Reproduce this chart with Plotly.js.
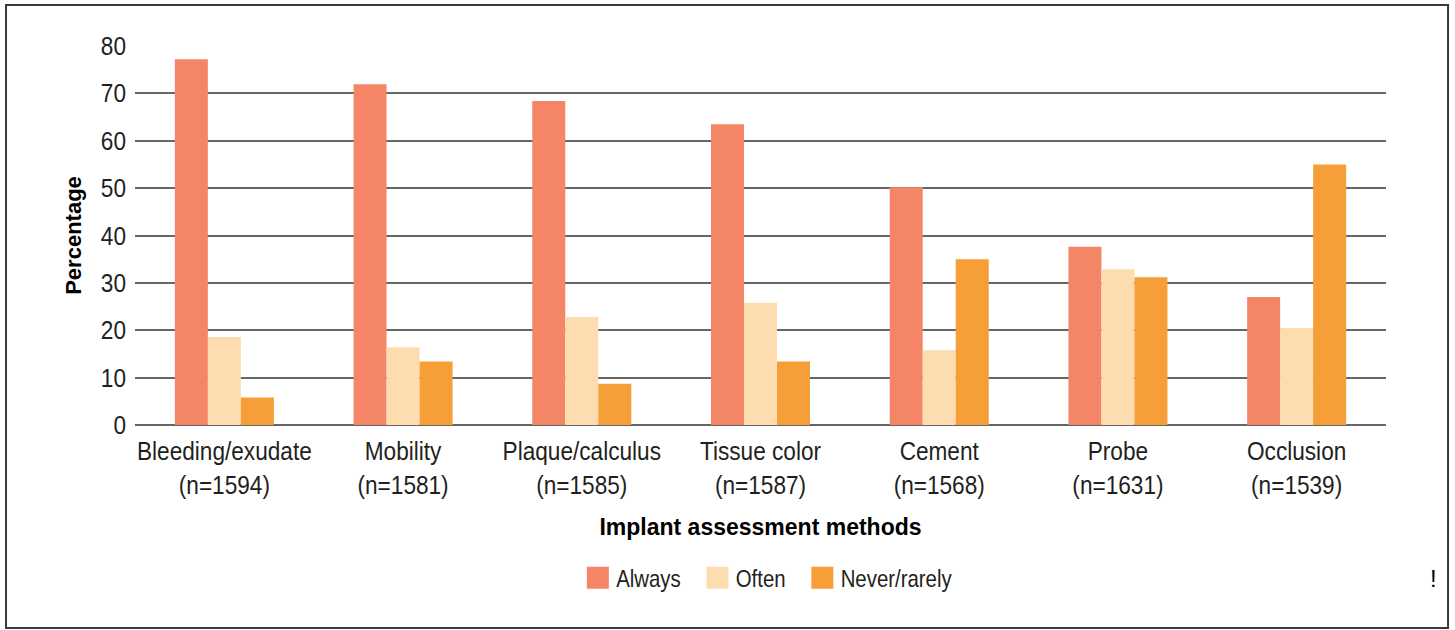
<!DOCTYPE html>
<html>
<head>
<meta charset="utf-8">
<script src="https://cdn.plot.ly/plotly-3.0.1.min.js"></script>
<style>
html,body{margin:0;padding:0;background:#fff;}
#chart{width:1455px;height:630px;}
</style>
</head>
<body>
<div id="chart"></div>
<script>
const categories = [
  "Bleeding/exudate<br>(n=1594)",
  "Mobility<br>(n=1581)",
  "Plaque/calculus<br>(n=1585)",
  "Tissue color<br>(n=1587)",
  "Cement<br>(n=1568)",
  "Probe<br>(n=1631)",
  "Occlusion<br>(n=1539)"
];
const always = [77.2, 71.9, 68.4, 63.5, 50.2, 37.6, 27.0];
const often = [18.6, 16.4, 22.8, 25.8, 15.8, 32.9, 20.5];
const neverRarely = [5.8, 13.4, 8.7, 13.4, 35.0, 31.2, 55.0];
const seriesNames = ["Always", "Often", "Never/rarely"];
const yTicks = [0, 10, 20, 30, 40, 50, 60, 70, 80];

const colors = ["#F48567", "#FDDCAF", "#F69E37"];
const font = "Liberation Sans, Arial, sans-serif";

const traces = [always, often, neverRarely].map((vals, i) => ({
  type: "bar",
  name: seriesNames[i],
  x: categories,
  y: vals,
  marker: {color: colors[i], line: {width: 0}},
  hoverinfo: "x+y+name"
}));

const layout = {
  width: 1455, height: 630,
  margin: {l: 135, r: 69, t: 46, b: 205},
  paper_bgcolor: "#fff", plot_bgcolor: "#fff",
  barmode: "group",
  bargap: 0.446,
  bargroupgap: 0,
  font: {family: font, color: "#231f20"},
  xaxis: {
    type: "category",
    tickfont: {family: font, size: 26, color: "#231f20"},
    ticks: "", showline: false, showgrid: false,
    ticklabelstandoff: 8,
    title: {text: "<b>Implant assessment methods</b>", font: {family: font, size: 23, color: "#000"}, standoff: 20}
  },
  yaxis: {
    range: [0, 80],
    tickvals: yTicks,
    ticktext: yTicks.map(String),
    tickfont: {family: font, size: 26, color: "#231f20"},
    ticks: "",
    showgrid: true, gridcolor: "#666", gridwidth: 2,
    zeroline: true, zerolinecolor: "#666", zerolinewidth: 2,
    showline: false,
    ticklabelstandoff: 8,
    title: {text: "<b>Percentage</b>", font: {family: font, size: 22, color: "#000"}, standoff: 9}
  },
  legend: {
    orientation: "h",
    x: 0.354, xanchor: "left",
    y: -0.404, yanchor: "middle",
    font: {family: font, size: 24, color: "#231f20"},
    bgcolor: "rgba(0,0,0,0)"
  },
  shapes: [{
    type: "rect", xref: "paper", yref: "paper",
    x0: -0.1031, x1: 1.0496, y0: -0.5356, y1: 1.108,
    line: {color: "#3a3a3a", width: 2}, fillcolor: "rgba(0,0,0,0)", layer: "below"
  }],
  annotations: [{
    xref: "paper", yref: "paper", x: 1.038, y: -0.404,
    text: "!", showarrow: false, font: {family: font, size: 24, color: "#000"},
    xanchor: "center", yanchor: "middle"
  }]
};

// condense text horizontally (the reference uses a narrow face)
function squeeze(sel, sx, anchor) {
  document.querySelectorAll(sel).forEach(t => {
    const b = t.getBBox();
    const cx = anchor === "middle" ? b.x + b.width / 2 : anchor === "end" ? b.x + b.width : b.x;
    const prev = t.getAttribute("transform") || "";
    t.setAttribute("transform", prev + " translate(" + cx + ",0) scale(" + sx + ",1) translate(" + (-cx) + ",0)");
  });
}

Plotly.newPlot("chart", traces, layout, {displayModeBar: false, responsive: false}).then(gd => {
  squeeze("#chart .xtick text", 0.87, "middle");
  squeeze("#chart .ytick text", 0.87, "end");
  squeeze("#chart .legendtext", 0.85, "start");
  document.querySelectorAll("#chart .legendpoints path").forEach(p => {
    p.setAttribute("d", "M11,11H-11V-11H11Z");
  });
  // re-space legend entries after condensing
  const items = Array.from(document.querySelectorAll("#chart .legend .traces"));
  let x = 0;
  items.forEach(g => {
    const tr = g.getAttribute("transform") || "";
    const m = tr.match(/translate\(\s*([-\d.]+)[ ,]+([-\d.]+)\s*\)/);
    const y = m ? parseFloat(m[2]) : 0;
    g.setAttribute("transform", "translate(" + x + "," + y + ")");
    const t = g.querySelector(".legendtext");
    t.setAttribute("transform", (t.getAttribute("transform") || "") + " translate(-2,0)");
    const w = t.getBBox().width * 0.85;
    x += 38 + w + 17;
  });
});
</script>
</body>
</html>
